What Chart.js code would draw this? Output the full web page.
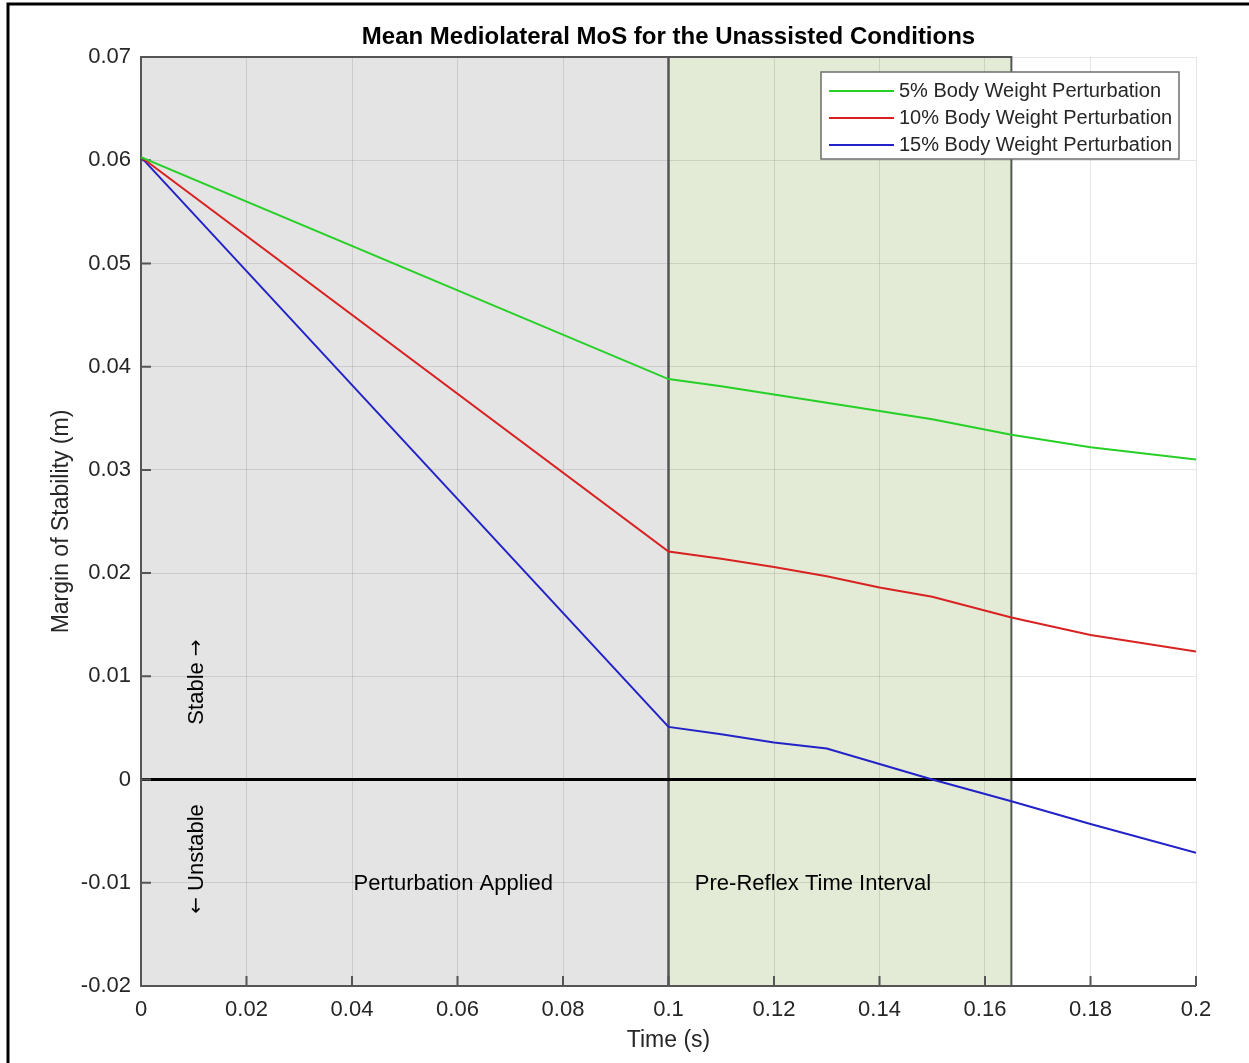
<!DOCTYPE html>
<html>
<head>
<meta charset="utf-8">
<script src="https://cdn.jsdelivr.net/npm/chart.js@4"></script>
<style>
    html, body { margin: 0; padding: 0; background: #ffffff; }
    #graphiqueMoS { display: block; }
</style>
</head>
<body>
<canvas id="graphiqueMoS" width="1249" height="1063"></canvas>
<script>
// time samples (s) and mean ML margin of stability (m) for each perturbation level
const temps = [0, 0.1, 0.11, 0.12, 0.13, 0.14, 0.15, 0.165, 0.18, 0.2];
const mos5 = [0.0603, 0.0388, 0.0381, 0.0373, 0.0365, 0.0357, 0.0349, 0.0334, 0.0322, 0.0310];
const mos10 = [0.0603, 0.0221, 0.0214, 0.0206, 0.0197, 0.0186, 0.0177, 0.0157, 0.0140, 0.0124];
const mos15 = [0.0603, 0.0051, 0.0044, 0.0036, 0.0030, 0.0015, 0.0000, -0.0021, -0.0043, -0.0071];
const libelles = ["5% Body Weight Perturbation", "10% Body Weight Perturbation", "15% Body Weight Perturbation"];
const couleurs = ["#26d026", "#d82222", "#2222c8"];

// shaded phases: [start, end] in seconds
const phasePerturbation = [0, 0.1];
const phaseReflexe = [0.1, 0.165];

const police = "'Liberation Sans', Arial, sans-serif";
const policeFleche = "'DejaVu Sans', sans-serif";

function points(valeurs) {
    return temps.map(function(t, i) {
        return { x: t, y: valeurs[i] };
    });
}

function formatTick(v) {
    return String(parseFloat(v.toFixed(3)));
}

// rotated text made of pieces in different fonts, centred on (cx, cy)
function texteVertical(ctx, morceaux, cx, cy) {
    let total = 0;
    morceaux.forEach(function(m) {
        ctx.font = m.font;
        m.w = ctx.measureText(m.t).width;
        total += m.w;
    });
    ctx.save();
    ctx.translate(cx, cy);
    ctx.rotate(-Math.PI / 2);
    ctx.textAlign = "left";
    let pos = -total / 2;
    morceaux.forEach(function(m) {
        ctx.font = m.font;
        ctx.fillText(m.t, pos, 0);
        pos += m.w;
    });
    ctx.restore();
}

// backgrounds, phase edges, zero line, ticks, legend and labels
const decor = {
    id: "decor",
    beforeDraw(chart) {
        const ctx = chart.ctx;
        const x = chart.scales.x;
        const a = chart.chartArea;
        ctx.save();
        ctx.fillStyle = "#e4e4e4";
        ctx.fillRect(x.getPixelForValue(phasePerturbation[0]), a.top, x.getPixelForValue(phasePerturbation[1]) - x.getPixelForValue(phasePerturbation[0]), a.bottom - a.top);
        ctx.fillStyle = "#e3ebd6";
        ctx.fillRect(x.getPixelForValue(phaseReflexe[0]), a.top, x.getPixelForValue(phaseReflexe[1]) - x.getPixelForValue(phaseReflexe[0]), a.bottom - a.top);
        ctx.restore();
    },
    beforeDatasetsDraw(chart) {
        const ctx = chart.ctx;
        const x = chart.scales.x;
        const y = chart.scales.y;
        const a = chart.chartArea;
        ctx.save();
        // phase rectangles edges
        ctx.strokeStyle = "#555555";
        ctx.lineWidth = 2;
        [phasePerturbation, phaseReflexe].forEach(function(p) {
            const x0 = x.getPixelForValue(p[0]);
            const x1 = x.getPixelForValue(p[1]);
            ctx.strokeRect(x0, a.top, x1 - x0, a.bottom - a.top);
        });
        // zero line
        const y0 = y.getPixelForValue(0);
        ctx.strokeStyle = "#000000";
        ctx.lineWidth = 3;
        ctx.beginPath();
        ctx.moveTo(a.left, y0);
        ctx.lineTo(a.right, y0);
        ctx.stroke();
        // inward ticks
        ctx.strokeStyle = "#555555";
        ctx.lineWidth = 2;
        ctx.beginPath();
        x.ticks.forEach(function(t) {
            const px = x.getPixelForValue(t.value);
            ctx.moveTo(px, a.bottom);
            ctx.lineTo(px, a.bottom - 10);
        });
        y.ticks.forEach(function(t) {
            const py = y.getPixelForValue(t.value);
            ctx.moveTo(a.left, py);
            ctx.lineTo(a.left + 10, py);
        });
        ctx.stroke();
        // axis lines
        ctx.beginPath();
        ctx.moveTo(a.left, a.top);
        ctx.lineTo(a.left, a.bottom);
        ctx.lineTo(a.right, a.bottom);
        ctx.stroke();
        ctx.restore();
    },
    afterDraw(chart) {
        const ctx = chart.ctx;
        const x = chart.scales.x;
        const y = chart.scales.y;
        const a = chart.chartArea;
        const cx = (a.left + a.right) / 2;
        ctx.save();

        // frame around the figure
        ctx.strokeStyle = "#000000";
        ctx.lineWidth = 3;
        ctx.beginPath();
        ctx.moveTo(8, 1063);
        ctx.lineTo(8, 4);
        ctx.lineTo(1249, 4);
        ctx.stroke();

        // title
        ctx.fillStyle = "#000000";
        ctx.font = "bold 24px " + police;
        ctx.textAlign = "center";
        ctx.textBaseline = "middle";
        ctx.fillText("Mean Mediolateral MoS for the Unassisted Conditions", cx, 37);

        // axis titles
        ctx.fillStyle = "#262626";
        ctx.font = "23px " + police;
        ctx.fillText("Time (s)", cx, 1041);
        ctx.save();
        ctx.translate(62, (a.top + a.bottom) / 2);
        ctx.rotate(-Math.PI / 2);
        ctx.fillText("Margin of Stability (m)", 0, 0);
        ctx.restore();

        // stable / unstable markers
        ctx.fillStyle = "#000000";
        texteVertical(ctx, [
            { t: "Stable ", font: "22px " + police },
            { t: "\u2192", font: "20px " + policeFleche }
        ], 197, 682);
        texteVertical(ctx, [
            { t: "\u2190", font: "20px " + policeFleche },
            { t: " Unstable", font: "22px " + police }
        ], 197, 859);

        // phase captions
        ctx.textAlign = "center";
        ctx.font = "22px " + police;
        ctx.fillText("Perturbation Applied", x.getPixelForValue(0.0592), y.getPixelForValue(-0.0101));
        ctx.fillText("Pre-Reflex Time Interval", x.getPixelForValue(0.1274), y.getPixelForValue(-0.0101));

        // legend
        const lx = 821, ly = 72, lw = 358, lh = 87;
        ctx.fillStyle = "#ffffff";
        ctx.fillRect(lx, ly, lw, lh);
        ctx.strokeStyle = "#6e6e6e";
        ctx.lineWidth = 1.5;
        ctx.strokeRect(lx, ly, lw, lh);
        ctx.textAlign = "left";
        ctx.font = "20px " + police;
        chart.data.datasets.forEach(function(ds, i) {
            const ry = 91 + i * 27;
            ctx.strokeStyle = ds.borderColor;
            ctx.lineWidth = 2;
            ctx.beginPath();
            ctx.moveTo(829, ry);
            ctx.lineTo(894, ry);
            ctx.stroke();
            ctx.fillStyle = "#262626";
            ctx.fillText(ds.label, 899, ry);
        });
        ctx.restore();
    }
};

const ctx = document.getElementById("graphiqueMoS");
new Chart(ctx, {
    type: "line",
    data: {
        datasets: [
            { label: libelles[0], data: points(mos5), borderColor: couleurs[0] },
            { label: libelles[1], data: points(mos10), borderColor: couleurs[1] },
            { label: libelles[2], data: points(mos15), borderColor: couleurs[2] }
        ]
    },
    options: {
        responsive: false,
        animation: false,
        layout: {
            padding: { top: 57, right: 53, left: 0, bottom: 0 }
        },
        elements: {
            point: { radius: 0 },
            line: { borderWidth: 2, tension: 0 }
        },
        plugins: {
            legend: { display: false },
            tooltip: { enabled: false }
        },
        scales: {
            x: {
                type: "linear",
                min: 0,
                max: 0.2,
                afterFit: function(scale) { scale.height = 77; },
                ticks: {
                    stepSize: 0.02,
                    padding: 11,
                    maxRotation: 0,
                    color: "#262626",
                    font: { family: police, size: 22 },
                    callback: formatTick
                },
                grid: {
                    color: "rgba(0, 0, 0, 0.1)",
                    tickLength: 0,
                    drawTicks: false
                },
                border: { display: false }
            },
            y: {
                type: "linear",
                min: -0.02,
                max: 0.07,
                afterFit: function(scale) { scale.width = 141; },
                ticks: {
                    stepSize: 0.01,
                    padding: 10,
                    color: "#262626",
                    font: { family: police, size: 22 },
                    callback: formatTick
                },
                grid: {
                    color: "rgba(0, 0, 0, 0.1)",
                    tickLength: 0,
                    drawTicks: false
                },
                border: { display: false }
            }
        }
    },
    plugins: [decor]
});
</script>
</body>
</html>
